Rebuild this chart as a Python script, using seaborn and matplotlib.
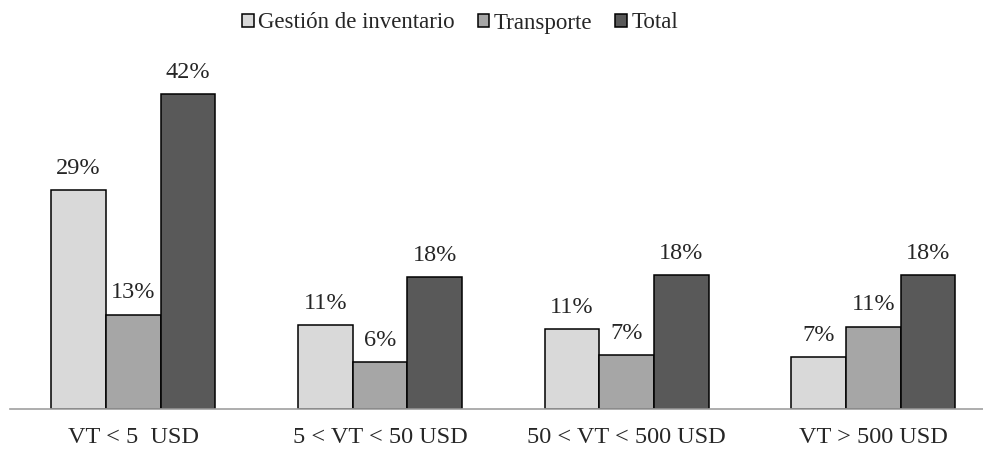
import pandas as pd
import matplotlib.pyplot as plt
import seaborn as sns

sns.set_style("white")
plt.rcParams['font.family'] = ['Liberation Serif', 'DejaVu Serif']

# data (bar heights, in %)
rangos = ["VT < 5  USD", "5 < VT < 50 USD", "50 < VT < 500 USD", "VT > 500 USD"]
series = ["Gestión de inventario", "Transporte", "Total"]
inventario = [29.2, 11.2, 10.7, 6.9]
transporte = [12.6, 6.3, 7.2, 11.0]
total = [42.0, 17.6, 17.9, 17.9]
colores = ["#d9d9d9", "#a6a6a6", "#595959"]

df = pd.DataFrame({
    "rango": rangos * 3,
    "serie": [series[0]] * 4 + [series[1]] * 4 + [series[2]] * 4,
    "valor": inventario + transporte + total,
})

fig = plt.figure(figsize=(9.83, 4.49), dpi=100)
ax = fig.add_axes([10 / 983, 40 / 449, 973 / 983, 359 / 449])

sns.barplot(data=df, x="rango", y="valor", hue="serie", order=rangos,
            hue_order=series, palette=colores, width=0.665,
            edgecolor="black", linewidth=1.1, ax=ax)

for cont in ax.containers:
    ax.bar_label(cont, fmt="{:.0f}%", padding=8, fontsize=17.5)

ax.set_xlim(-0.5, 3.444)
ax.set_ylim(0, 47.9)
ax.set_xlabel("")
ax.set_ylabel("")
ax.set_yticks([])
ax.tick_params(axis="x", length=0, labelsize=17.5, pad=13)
for s in ["top", "right", "left"]:
    ax.spines[s].set_visible(False)
ax.spines["bottom"].set_color("#a0a0a0")
ax.spines["bottom"].set_linewidth(1.2)

handles, labels = ax.get_legend_handles_labels()
ax.get_legend().remove()
fig.legend(handles, labels, loc="center", bbox_to_anchor=(460 / 983, 1 - 23 / 449),
           ncol=3, frameon=False, fontsize=16.5, handlelength=0.5,
           handleheight=0.5, handletextpad=0.2, columnspacing=1.0)

plt.savefig("out.png", dpi=100)
